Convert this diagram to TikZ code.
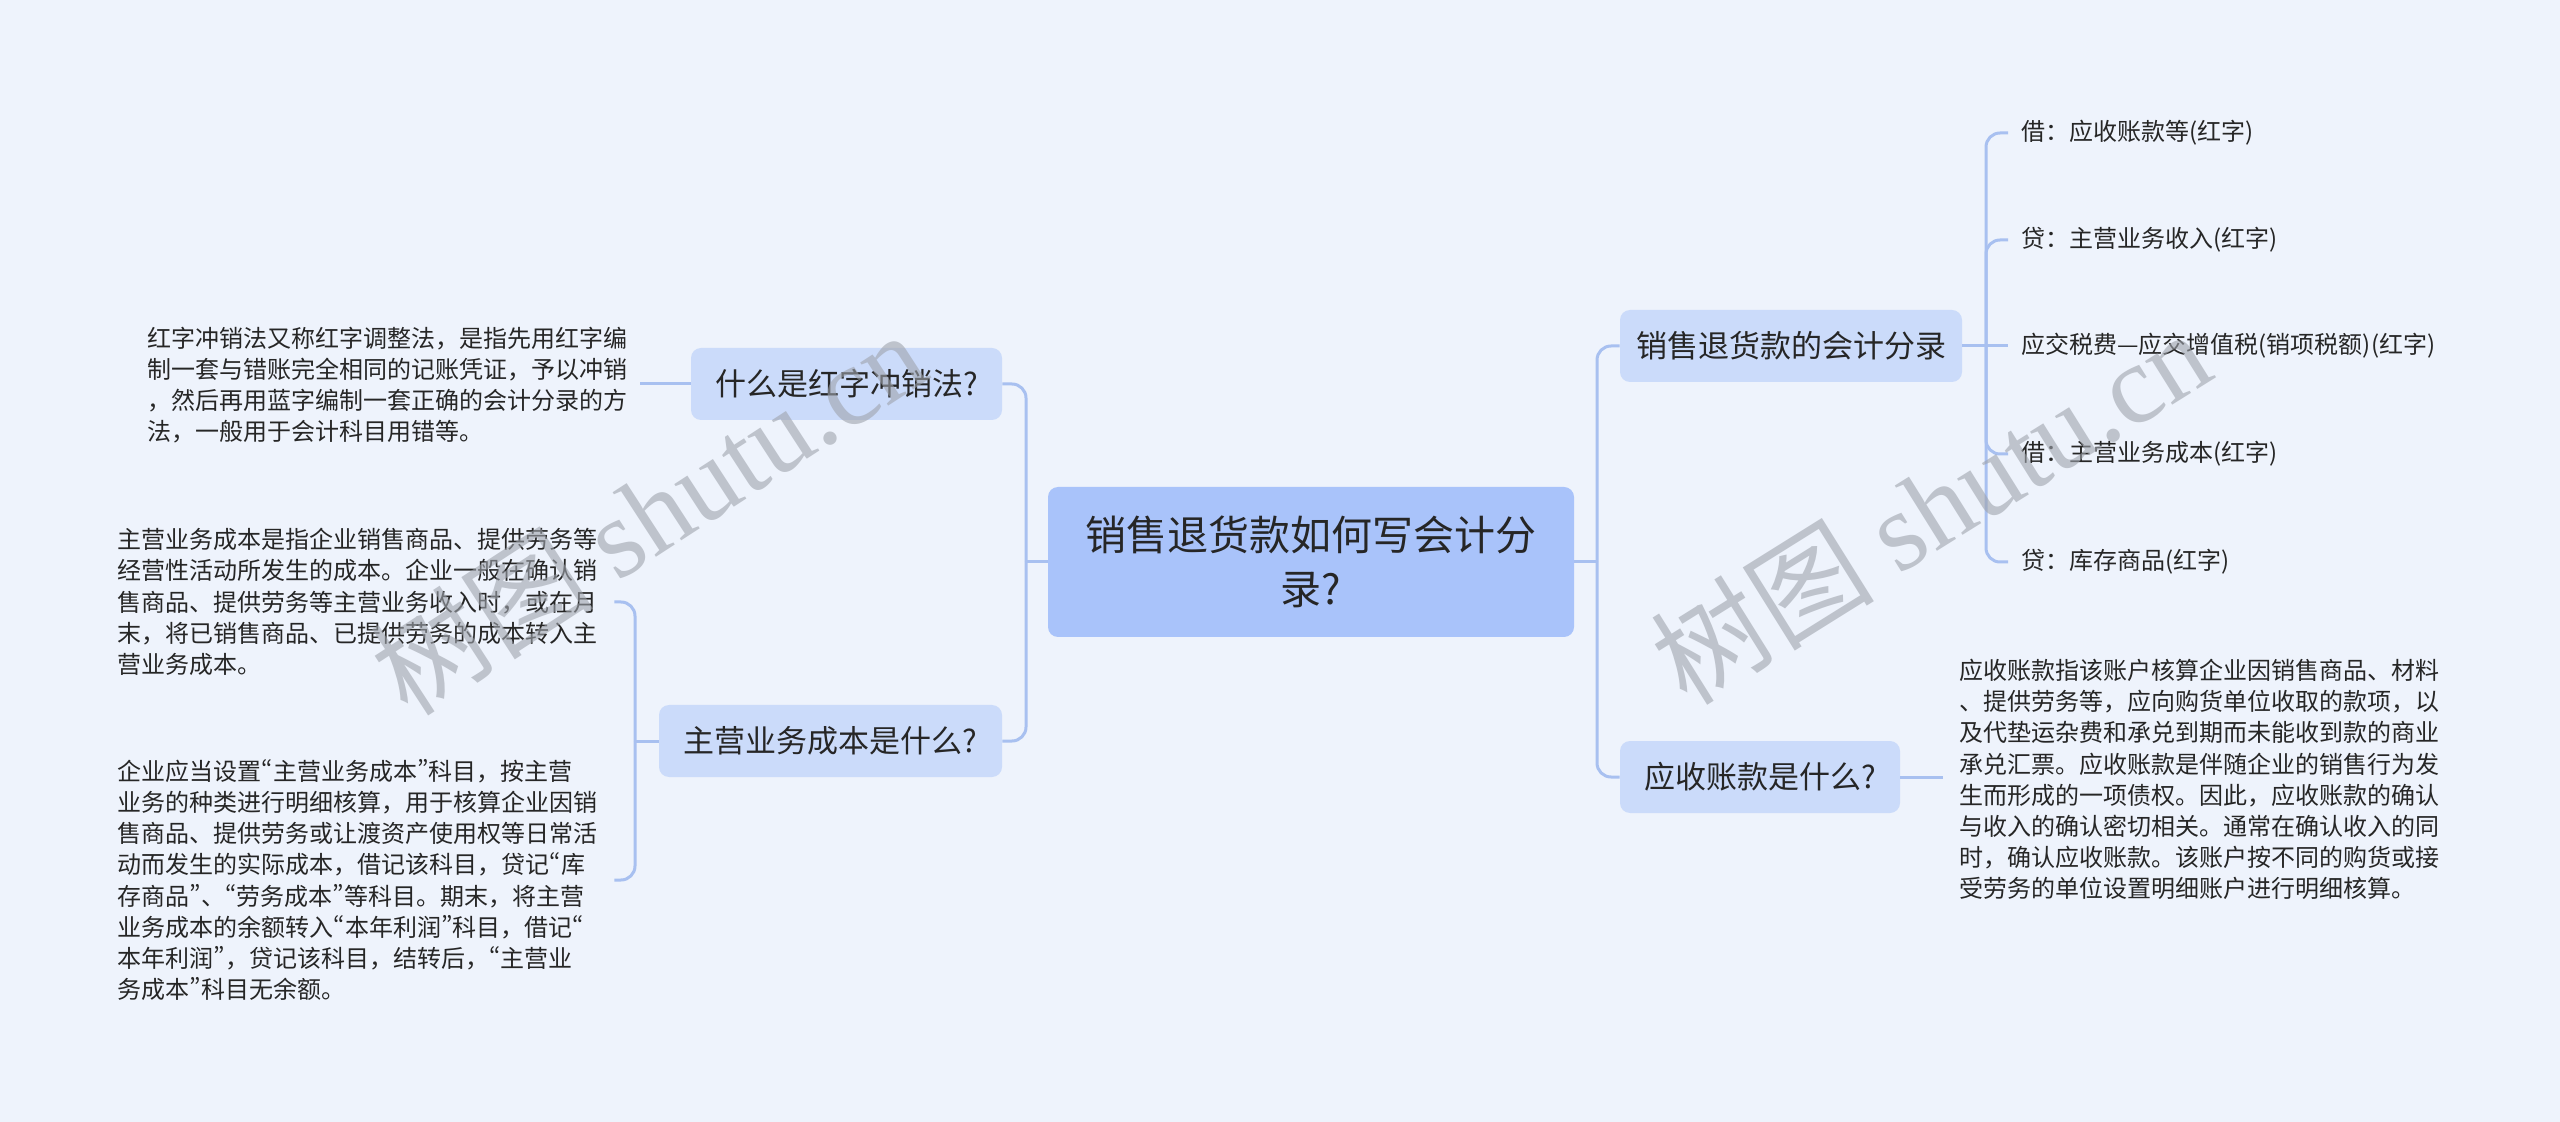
\documentclass[tikz,border=0pt]{standalone}
\usepackage{fontspec}
\setmainfont{Noto Sans CJK SC}
\newfontfamily\wmserif{Liberation Serif}
\newfontfamily\qfont[RawFeature=+pwid]{Noto Sans CJK SC}
\newcommand\lqq{{\qfont “}}
\newcommand\rqq{{\qfont ”}}
\definecolor{bgc}{HTML}{EEF3FC}
\definecolor{rootc}{HTML}{A9C3FA}
\definecolor{brc}{HTML}{CBDBFA}
\definecolor{lc}{HTML}{A8C0F0}
\definecolor{tc}{HTML}{262626}
\definecolor{wmc}{HTML}{9EA3AC}
\begin{document}
\begin{tikzpicture}[x=0.5pt,y=-0.5pt,
  conn/.style={draw=lc, line width=1.5pt, rounded corners=7pt},
  rootbox/.style={fill=rootc, rounded corners=5pt, align=center, text=tc,
    font=\fontsize{20.5pt}{27pt}\selectfont, minimum width=263pt, minimum height=75pt, inner sep=0pt},
  brbox/.style={fill=brc, rounded corners=5pt, text=tc,
    font=\fontsize{15.5pt}{18pt}\selectfont, minimum height=36pt, inner sep=0pt},
  para/.style={align=left, text=tc, font=\fontsize{12pt}{15.6pt}\selectfont,
    inner xsep=8pt, inner ysep=2pt, anchor=west},
  leaf/.style={text=tc, font=\fontsize{12pt}{15pt}\selectfont,
    inner xsep=6.5pt, inner ysep=2pt, anchor=west},
  wm/.style={text=wmc, opacity=0.6, font=\fontsize{56pt}{60pt}\selectfont, inner sep=0pt}
]
\useasboundingbox (0,0) rectangle (2560,1122);
\fill[bgc] (0,0) rectangle (2560,1122);

% root
\node[rootbox] (root) at (1311,562) {销售退货款如何写会计分\\录?};

% branches
\node[brbox, minimum width=155.5pt] (b1) at (846.5,384) {什么是红字冲销法?};
\node[brbox, minimum width=171.5pt] (b2) at (830.5,741) {主营业务成本是什么?};
\node[brbox, minimum width=171pt] (b3) at (1791,346) {销售退货款的会计分录};
\node[brbox, minimum width=140pt] (b4) at (1760,777) {应收账款是什么?};

% paragraphs
\node[para, inner xsep=6pt] (t1) at (135,385) {红字冲销法又称红字调整法，是指先用红字编\\制一套与错账完全相同的记账凭证，予以冲销\\，然后再用蓝字编制一套正确的会计分录的方\\法，一般用于会计科目用错等。};
\node[para] (t2) at (101.5,602) {主营业务成本是指企业销售商品、提供劳务等\\经营性活动所发生的成本。企业一般在确认销\\售商品、提供劳务等主营业务收入时，或在月\\末，将已销售商品、已提供劳务的成本转入主\\营业务成本。};
\node[para] (t3) at (101.5,880) {企业应当设置\lqq 主营业务成本\rqq 科目，按主营\\业务的种类进行明细核算，用于核算企业因销\\售商品、提供劳务或让渡资产使用权等日常活\\动而发生的实际成本，借记该科目，贷记\lqq 库\\存商品\rqq 、\lqq 劳务成本\rqq 等科目。期末，将主营\\业务成本的余额转入\lqq 本年利润\rqq 科目，借记\lqq\\本年利润\rqq ，贷记该科目，结转后，\lqq 主营业\\务成本\rqq 科目无余额。};
\node[para] (t4) at (1943,779.5) {应收账款指该账户核算企业因销售商品、材料\\、提供劳务等，应向购货单位收取的款项，以\\及代垫运杂费和承兑到期而未能收到款的商业\\承兑汇票。应收账款是伴随企业的销售行为发\\生而形成的一项债权。因此，应收账款的确认\\与收入的确认密切相关。通常在确认收入的同\\时，确认应收账款。该账户按不同的购货或接\\受劳务的单位设置明细账户进行明细核算。};

% leaves
\node[leaf] (l1) at (2008,133) {借：应收账款等(红字)};
\node[leaf] (l2) at (2008,240) {贷：主营业务收入(红字)};
\node[leaf] (l3) at (2008,346) {应交税费—应交增值税(销项税额)(红字)};
\node[leaf] (l4) at (2008,454) {借：主营业务成本(红字)};
\node[leaf] (l5) at (2008,562) {贷：库存商品(红字)};

% bus points
\coordinate (lbus) at (1026,562);
\coordinate (rbus) at (1597,562);
\coordinate (lb2) at (635,741);
\coordinate (rb3) at (1986,346);

% connectors
\draw[conn] (root.west) -- (lbus);
\draw[conn] (b1.east) -| (lbus);
\draw[conn] (b2.east) -| (lbus);
\draw[conn] (root.east) -- (rbus);
\draw[conn] (b3.west) -| (rbus);
\draw[conn] (b4.west) -| (rbus);

\draw[conn] (b1.west) -- (b1.west -| t1.east);
\draw[conn] (b2.west) -- (lb2);
\draw[conn] (t2.east) -| (lb2);
\draw[conn] (t3.east) -| (lb2);

\draw[conn] (b3.east) -- (rb3);
\draw[conn] (rb3) |- (l1.west);
\draw[conn] (rb3) |- (l2.west);
\draw[conn] (rb3) -- (l3.west);
\draw[conn] (rb3) |- (l4.west);
\draw[conn] (rb3) |- (l5.west);

\draw[conn] (b4.east) -- (b4.east -| t4.west);

% watermarks
\node[wm, rotate=33] (wm1) at (648,512) {树图 {\wmserif shutu.cn}};
\node[wm, rotate=32] (wm2) at (1930,506) {树图 {\wmserif shutu.cn}};
\end{tikzpicture}
\end{document}
